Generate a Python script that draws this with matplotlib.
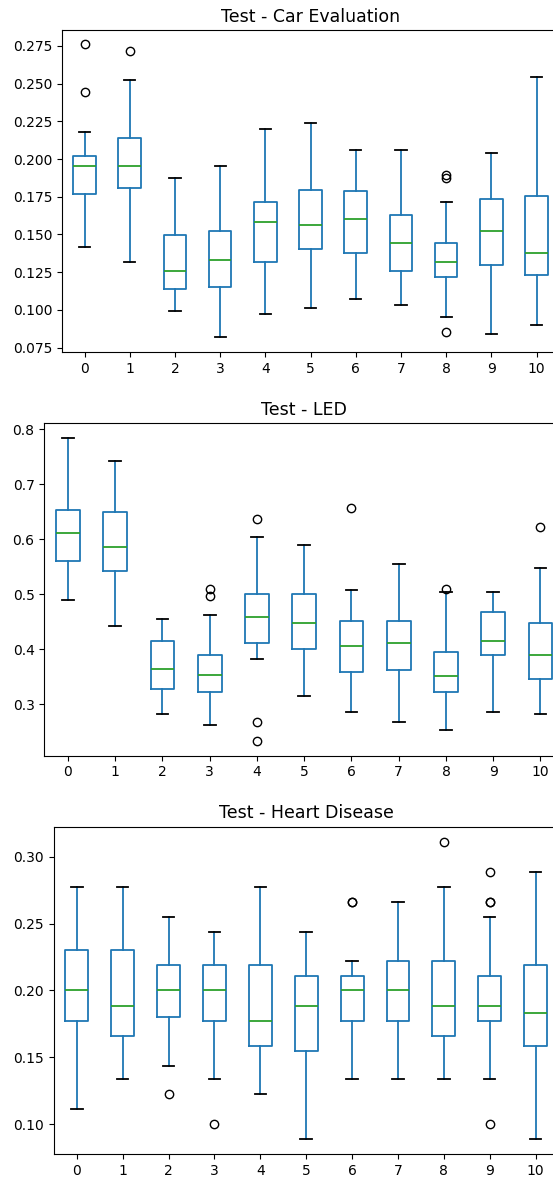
import matplotlib
matplotlib.use("Agg")
import matplotlib.pyplot as plt

labels = [str(i) for i in range(11)]

# Panel 1: Test - Car Evaluation
car_whislo = [0.1415, 0.1318, 0.0995, 0.0818, 0.0975, 0.1015, 0.1072, 0.1035, 0.0955, 0.0838, 0.0898]
car_q1     = [0.1767, 0.1806, 0.1141, 0.1152, 0.1318, 0.1406, 0.1375, 0.1258, 0.1220, 0.1298, 0.1229]
car_med    = [0.1956, 0.1956, 0.1260, 0.1329, 0.1583, 0.1563, 0.1603, 0.1446, 0.1318, 0.1525, 0.1375]
car_q3     = [0.2023, 0.2142, 0.1495, 0.1525, 0.1718, 0.1797, 0.1788, 0.1631, 0.1444, 0.1737, 0.1757]
car_whishi = [0.2180, 0.2523, 0.1875, 0.1956, 0.2200, 0.2237, 0.2060, 0.2060, 0.1718, 0.2040, 0.2542]
car_fliers = [[0.276, 0.2445], [0.2719], [], [], [], [], [], [], [0.1895, 0.1875, 0.0855], [], []]

# Panel 2: Test - LED
led_whislo = [0.4887, 0.4419, 0.2812, 0.2612, 0.3813, 0.3146, 0.2860, 0.2666, 0.2527, 0.2860, 0.2812]
led_q1     = [0.5609, 0.5414, 0.3279, 0.3225, 0.4110, 0.4001, 0.3576, 0.3613, 0.3218, 0.3886, 0.3449]
led_med    = [0.6113, 0.5864, 0.3643, 0.3528, 0.4584, 0.4474, 0.4056, 0.4110, 0.3504, 0.4141, 0.3886]
led_q3     = [0.6525, 0.6495, 0.4141, 0.3886, 0.5002, 0.5002, 0.4505, 0.4505, 0.3940, 0.4669, 0.4468]
led_whishi = [0.7836, 0.7424, 0.4553, 0.4614, 0.6034, 0.5888, 0.5081, 0.5555, 0.5045, 0.5033, 0.5470]
led_fliers = [[], [], [], [0.5087, 0.4966], [0.6374, 0.2666, 0.2333], [], [0.6562], [], [0.5094], [], [0.6222]]

# Panel 3: Test - Heart Disease
hd_whislo = [0.1112, 0.1336, 0.1438, 0.1336, 0.1224, 0.0888, 0.1336, 0.1336, 0.1336, 0.1336, 0.0888]
hd_q1     = [0.1775, 0.1660, 0.1804, 0.1775, 0.1583, 0.1550, 0.1775, 0.1775, 0.1660, 0.1775, 0.1583]
hd_med    = [0.2000, 0.1887, 0.2000, 0.2000, 0.1775, 0.1887, 0.2000, 0.2000, 0.1887, 0.1887, 0.1832]
hd_q3     = [0.2300, 0.2300, 0.2193, 0.2193, 0.2193, 0.2111, 0.2111, 0.2223, 0.2223, 0.2111, 0.2193]
hd_whishi = [0.2773, 0.2773, 0.2549, 0.2437, 0.2773, 0.2437, 0.2223, 0.2661, 0.2773, 0.2549, 0.2888]
hd_fliers = [[], [], [0.1224], [0.1000], [], [], [0.2661, 0.2661], [], [0.3112], [0.2888, 0.2661, 0.2661, 0.1000], []]

panels = [
    ("Test - Car Evaluation", car_whislo, car_q1, car_med, car_q3, car_whishi, car_fliers,
     [0.1121, 0.7017, 0.8990, 0.2729], (0.0721, 0.2856),
     [0.075, 0.100, 0.125, 0.150, 0.175, 0.200, 0.225, 0.250, 0.275], "{:.3f}"),
    ("Test - LED", led_whislo, led_q1, led_med, led_q3, led_whishi, led_fliers,
     [0.0801, 0.3596, 0.9400, 0.2817], (0.206, 0.811),
     [0.3, 0.4, 0.5, 0.6, 0.7, 0.8], "{:.1f}"),
    ("Test - Heart Disease", hd_whislo, hd_q1, hd_med, hd_q3, hd_whishi, hd_fliers,
     [0.0975, 0.0218, 0.9125, 0.2776], (0.0776, 0.3224),
     [0.10, 0.15, 0.20, 0.25, 0.30], "{:.2f}"),
]

fig = plt.figure(figsize=(5.53, 11.8), dpi=100)

for (title, wlo, q1, med, q3, whi, fl, pos, ylim, yt, fmt) in panels:
    ax = fig.add_axes(pos)
    stats = []
    for i in range(len(labels)):
        stats.append(dict(whislo=wlo[i], q1=q1[i], med=med[i], q3=q3[i],
                          whishi=whi[i], fliers=fl[i], label=labels[i]))
    ax.bxp(stats, positions=list(range(len(labels))), widths=0.5,
           showfliers=True,
           boxprops=dict(color="#1f77b4", linewidth=1.3),
           whiskerprops=dict(color="#1f77b4", linewidth=1.3),
           capprops=dict(color="black", linewidth=1.3),
           medianprops=dict(color="#2ca02c", linewidth=1.3),
           flierprops=dict(marker="o", markerfacecolor="none",
                           markeredgecolor="black", markersize=6))
    ax.set_xlim(-0.5, len(labels) - 0.5)
    ax.set_ylim(*ylim)
    ax.set_yticks(yt)
    ax.set_yticklabels([fmt.format(v) for v in yt])
    ax.set_xticks(list(range(len(labels))))
    ax.set_xticklabels(labels)
    ax.tick_params(labelsize=10)
    ax.set_title(title, fontsize=12.5)

fig.savefig("out.png", dpi=100)
